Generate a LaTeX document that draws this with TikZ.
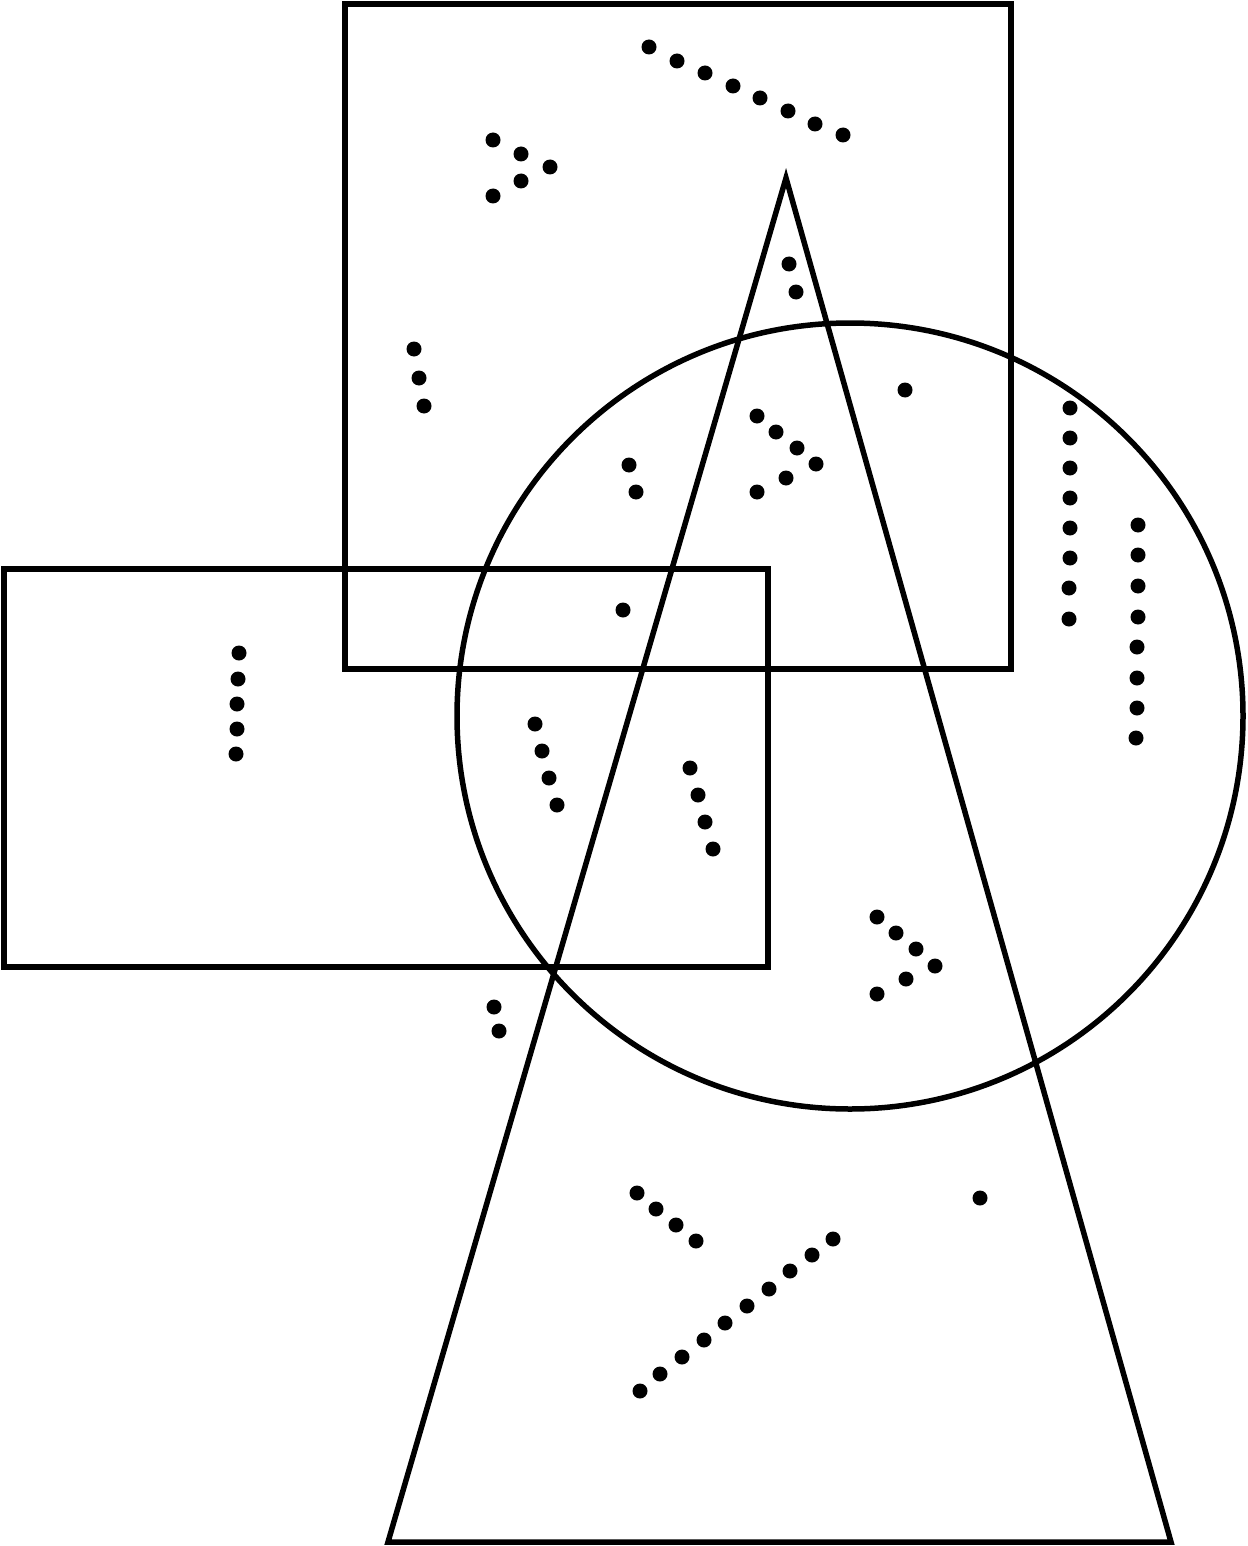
\documentclass[tikz,border=0pt]{standalone}
\usepackage{tikz}

\begin{document}
\begin{tikzpicture}[x=1pt,y=-1pt]
                \tikzstyle{spot}=[circle,fill,inner sep=0pt,minimum size=15pt]
                \tikzstyle{outline}=[line width=5.5pt,line join=miter]
                \newcommand\spot[3]{\node[spot] at (#1,#2) (#3) {};}
                \useasboundingbox (0,0) rectangle (1247,1546);
                % shapes
                \draw[outline] (345,4) rectangle (1011,669);
                \draw[outline] (4,569) rectangle (768,967);
                \draw[outline] (850,716) circle (393);
                \draw[outline] (786,178) -- (1171,1542) -- (388,1542) -- cycle;
                % top row
                \spot{649}{47}{a1} \spot{677}{61}{a2} \spot{705}{73}{a3} \spot{733}{86}{a4}
                \spot{760}{98}{a5} \spot{788}{111}{a6} \spot{815}{124}{a7} \spot{843}{135}{a8}
                % square only
                \spot{493}{140}{b1} \spot{521}{154}{b2} \spot{550}{167}{b3} \spot{521}{181}{b4} \spot{493}{196}{b5}
                \spot{414}{349}{c1} \spot{419}{378}{c2} \spot{424}{406}{c3}
                % square and triangle
                \spot{789}{264}{d1} \spot{796}{292}{d2}
                % square, circle
                \spot{905}{390}{e1}
                \spot{629}{465}{f1} \spot{636}{492}{f2}
                \spot{757}{416}{g1} \spot{776}{432}{g2} \spot{797}{448}{g3} \spot{816}{464}{g4}
                \spot{786}{478}{g5} \spot{757}{492}{g6}
                \spot{623}{610}{h1}
                % circle only
                \spot{1070}{408}{i1} \spot{1070}{438}{i2} \spot{1070}{468}{i3} \spot{1070}{498}{i4}
                \spot{1070}{528}{i5} \spot{1070}{558}{i6} \spot{1069}{588}{i7} \spot{1069}{619}{i8}
                \spot{1138}{525}{j1} \spot{1138}{555}{j2} \spot{1138}{586}{j3} \spot{1138}{617}{j4}
                \spot{1137}{647}{j5} \spot{1137}{678}{j6} \spot{1137}{708}{j7} \spot{1136}{738}{j8}
                % rectangle
                \spot{239}{653}{k1} \spot{238}{679}{k2} \spot{237}{704}{k3} \spot{237}{729}{k4} \spot{236}{754}{k5}
                \spot{535}{724}{l1} \spot{542}{751}{l2} \spot{549}{778}{l3} \spot{557}{805}{l4}
                \spot{690}{768}{m1} \spot{698}{795}{m2} \spot{705}{822}{m3} \spot{713}{849}{m4}
                % circle and triangle
                \spot{877}{917}{n1} \spot{896}{933}{n2} \spot{916}{949}{n3} \spot{935}{966}{n4}
                \spot{906}{979}{n5} \spot{877}{994}{n6}
                % outside
                \spot{494}{1007}{o1} \spot{499}{1031}{o2}
                % triangle only
                \spot{980}{1198}{p1}
                \spot{637}{1193}{q1} \spot{656}{1209}{q2} \spot{676}{1225}{q3} \spot{696}{1241}{q4}
                \spot{833}{1239}{r1} \spot{812}{1255}{r2} \spot{790}{1271}{r3} \spot{769}{1289}{r4}
                \spot{747}{1306}{r5} \spot{725}{1323}{r6} \spot{704}{1340}{r7} \spot{682}{1357}{r8}
                \spot{660}{1374}{r9} \spot{640}{1391}{r10}
\end{tikzpicture}
\end{document}
